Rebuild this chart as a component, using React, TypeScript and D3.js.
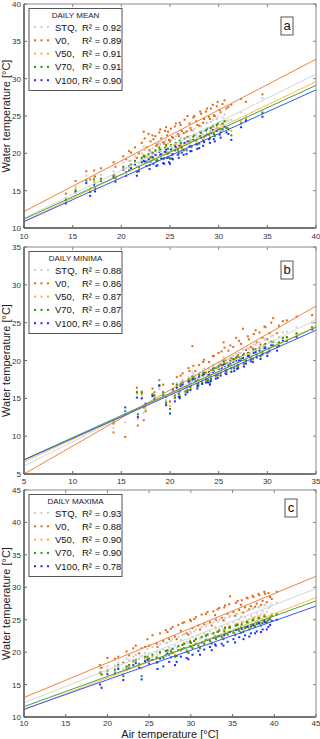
import React from "react";
import * as d3 from "d3";

// series shared by all three panels
const seriesNames = ["STQ", "V0", "V50", "V70", "V100"];
const pointColors = ["#cdcdcd", "#e8650f", "#ffae1f", "#1e9a1e", "#1c2cff"];
const lineColors = ["#d6d6d6", "#f0843c", "#ffbd4a", "#3da63d", "#3c50ff"];

// (a) daily mean
const airMean = [14.3, 15.3, 16.4, 16.8, 17.2, 17.3, 17.9, 19.2, 19.4, 20.2, 20.5, 21.0, 21.4, 21.8, 22.1, 22.3, 22.6, 22.8, 23.0, 23.3, 23.5, 23.7, 23.9, 24.1, 24.3, 24.5, 24.7, 24.9, 25.1, 25.3, 25.5, 25.8, 26.0, 26.2, 26.5, 26.7, 27.0, 27.2, 27.5, 27.7, 28.0, 28.2, 28.5, 28.7, 29.0, 29.2, 29.5, 29.8, 30.1, 30.4, 30.8, 31.3, 32.3, 32.8, 34.5,
  20.8, 21.6, 22.4, 22.9, 23.2, 23.6, 24.0, 24.4, 24.8, 25.2, 25.6, 25.9, 26.1, 26.4, 26.8, 27.1, 27.4, 27.8, 28.1, 28.4, 28.8, 29.1, 29.4, 29.6, 29.9, 30.2, 30.6, 31.0, 24.6, 25.0];
const stqMean = [14.0, 15.5, 17.0, 15.4, 16.8, 16.0, 17.1, 17.6, 17.0, 18.8, 18.0, 19.0, 19.6, 18.7, 20.0, 20.9, 19.6, 20.5, 20.2, 20.0, 21.0, 19.7, 21.4, 20.5, 20.1, 21.6, 20.8, 20.2, 21.8, 20.6, 21.9, 21.1, 22.5, 21.4, 22.8, 21.2, 22.3, 21.7, 23.3, 22.4, 22.2, 23.6, 23.0, 24.0, 23.4, 24.2, 23.5, 24.6, 24.2, 24.8, 24.3, 24.5, 25.5, 25.0, 27.4,
  19.0, 18.3, 20.4, 19.2, 20.7, 19.7, 21.2, 20.2, 21.3, 20.7, 22.3, 20.9, 22.1, 21.3, 23.0, 21.9, 23.0, 22.1, 23.7, 22.6, 24.1, 23.0, 24.5, 23.3, 24.8, 23.8, 25.2, 24.4, 21.8, 20.1];
const v0Mean = [14.6, 16.3, 17.6, 16.5, 17.7, 16.9, 18.0, 18.8, 18.2, 19.6, 19.2, 20.1, 20.8, 20.0, 21.4, 22.9, 20.8, 22.6, 21.6, 21.9, 22.3, 21.2, 22.8, 22.0, 21.5, 23.0, 22.4, 21.8, 23.3, 22.1, 23.6, 22.6, 24.1, 23.0, 24.5, 22.9, 24.0, 23.1, 25.0, 24.3, 23.7, 25.3, 24.6, 25.6, 24.9, 26.0, 25.1, 26.3, 25.8, 26.6, 26.0, 26.5, 27.3, 26.9, 27.9,
  20.3, 19.4, 22.0, 20.4, 22.4, 21.0, 23.2, 21.3, 22.9, 22.2, 24.0, 22.3, 23.8, 22.7, 25.0, 23.4, 24.8, 23.8, 25.6, 24.1, 26.0, 24.6, 26.5, 25.0, 26.9, 25.5, 27.1, 26.2, 23.5, 21.6];
const v50Mean = [13.6, 15.2, 16.2, 14.9, 16.2, 15.2, 16.5, 17.0, 16.6, 18.0, 17.4, 18.4, 18.9, 18.0, 19.2, 19.8, 18.8, 19.6, 19.3, 19.4, 20.3, 19.0, 20.6, 19.8, 19.2, 20.8, 19.9, 19.5, 21.0, 19.8, 21.2, 20.3, 21.6, 20.6, 21.9, 20.5, 21.5, 20.8, 22.4, 21.6, 21.4, 22.7, 22.1, 23.0, 22.6, 23.3, 22.7, 23.6, 23.2, 23.9, 23.4, 23.0, 24.3, 24.6, 25.6,
  18.1, 17.6, 19.4, 18.5, 19.9, 18.9, 20.3, 19.4, 20.6, 19.9, 21.3, 20.2, 21.2, 20.6, 22.1, 21.0, 22.2, 21.3, 22.8, 21.8, 23.2, 22.2, 23.6, 22.5, 23.9, 22.9, 24.3, 23.4, 20.9, 19.3];
const v70Mean = [13.8, 15.0, 16.4, 14.8, 16.5, 15.4, 16.6, 17.1, 16.7, 18.2, 17.5, 18.5, 19.0, 18.2, 19.4, 19.6, 18.9, 19.9, 19.5, 19.2, 20.4, 19.1, 20.8, 19.9, 19.3, 20.7, 20.1, 19.4, 21.1, 19.9, 21.0, 20.5, 21.7, 20.8, 22.0, 20.4, 21.6, 20.9, 22.5, 21.8, 21.3, 22.8, 22.3, 23.1, 22.5, 23.4, 22.6, 23.8, 23.3, 24.0, 23.4, 22.4, 24.0, 24.3, 25.4,
  18.3, 17.5, 19.6, 18.4, 20.1, 19.0, 20.5, 19.3, 20.6, 19.8, 21.4, 20.0, 21.4, 20.4, 22.2, 21.0, 22.3, 21.2, 22.9, 21.7, 23.3, 22.0, 23.7, 22.3, 24.0, 22.8, 24.3, 23.2, 21.1, 19.3];
const v100Mean = [13.3, 14.8, 16.0, 14.3, 15.8, 14.9, 16.3, 16.8, 16.2, 17.8, 17.0, 18.0, 18.5, 17.6, 18.8, 19.0, 18.3, 19.2, 18.9, 18.6, 19.8, 18.4, 20.2, 19.3, 18.7, 20.2, 19.4, 18.8, 20.5, 19.2, 20.4, 19.8, 21.0, 20.1, 21.4, 19.9, 20.9, 20.3, 21.8, 21.2, 20.7, 22.1, 21.5, 22.4, 21.9, 22.7, 21.9, 23.0, 22.5, 23.2, 22.8, 21.8, 23.5, 24.4, 24.9,
  17.7, 17.0, 18.9, 17.9, 19.5, 18.3, 19.8, 18.6, 20.0, 19.3, 20.8, 19.4, 20.9, 19.8, 21.6, 20.3, 21.8, 20.6, 22.3, 21.0, 22.6, 21.4, 23.1, 21.6, 23.3, 22.1, 23.6, 22.6, 20.5, 18.6];
// regression lines: value at left and right end of the x axis
const fitMean = [[11.3, 30.6], [12.2, 32.6], [10.9, 29.6], [11.2, 29.1], [10.85, 28.5]];
const r2Mean = ["0.92", "0.89", "0.91", "0.91", "0.90"];

// (b) daily minima
const airMin = [14.2, 15.4, 16.6, 16.7, 17.1, 17.3, 17.5, 18.2, 18.4, 18.9, 19.6, 20.0, 20.3, 20.7, 21.0, 21.3, 21.6, 21.9, 22.1, 22.3, 22.6, 22.8, 23.0, 23.3, 23.5, 23.7, 24.0, 24.2, 24.5, 24.7, 25.0, 25.2, 25.5, 25.7, 26.0, 26.3, 26.5, 26.8, 27.0, 27.3, 27.5, 27.8, 28.1, 28.3, 28.6, 28.9, 29.2, 29.5, 29.8, 30.2, 30.6, 31.2, 32.0, 33.0, 34.6,
  19.3, 20.5, 21.1, 21.8, 22.4, 22.9, 23.4, 23.9, 24.4, 24.9, 25.3, 25.8, 26.2, 26.6, 27.1, 27.6, 28.0, 28.5, 28.8, 29.3, 29.7, 30.0, 30.4, 31.0, 31.6, 24.1, 25.6, 26.9, 22.0, 20.9];
const stqMin = [11.1, 11.8, 15.6, 12.2, 15.0, 13.1, 13.6, 15.4, 15.0, 16.2, 14.8, 14.5, 16.3, 17.0, 15.5, 17.4, 16.0, 17.8, 16.6, 18.5, 17.9, 16.9, 18.4, 17.4, 18.9, 17.7, 18.9, 17.9, 19.4, 18.3, 19.7, 18.8, 20.4, 19.0, 20.2, 19.4, 20.6, 20.9, 19.8, 21.0, 21.4, 20.4, 21.6, 20.8, 22.1, 21.3, 22.4, 21.8, 22.9, 22.4, 23.3, 23.1, 23.8, 24.4, 25.0,
  15.9, 15.2, 17.2, 16.2, 18.2, 17.1, 18.7, 17.6, 19.3, 18.4, 19.9, 18.9, 20.5, 19.4, 21.0, 20.0, 21.6, 20.6, 22.1, 21.0, 22.7, 21.6, 23.2, 22.3, 23.7, 17.4, 20.2, 19.7, 17.6, 15.8];
const v0Min = [10.5, 9.9, 16.4, 11.4, 15.9, 12.1, 13.3, 16.3, 15.8, 17.4, 15.2, 14.6, 16.9, 17.8, 15.9, 18.3, 16.5, 19.0, 17.2, 21.9, 18.6, 17.4, 19.4, 18.0, 20.1, 18.4, 19.8, 18.7, 20.6, 19.0, 21.0, 19.5, 22.4, 20.0, 21.3, 20.3, 21.8, 23.0, 20.7, 22.2, 24.2, 21.4, 22.8, 21.8, 23.5, 22.4, 23.7, 23.0, 24.4, 23.6, 25.6, 24.6, 25.3, 25.8, 26.0,
  16.8, 15.4, 18.0, 16.6, 19.3, 17.6, 19.8, 18.1, 20.6, 19.1, 21.2, 19.6, 22.0, 20.2, 22.6, 20.9, 23.2, 21.6, 24.0, 22.1, 24.5, 22.8, 25.0, 23.6, 25.2, 18.0, 21.7, 20.5, 18.6, 16.2];
const v50Min = [11.6, 12.9, 15.9, 12.6, 15.4, 13.7, 13.9, 15.6, 15.2, 16.6, 14.6, 14.0, 16.1, 16.6, 15.3, 17.0, 15.8, 17.4, 16.3, 17.8, 17.5, 16.6, 18.0, 17.0, 18.3, 17.3, 18.4, 17.5, 18.9, 17.9, 19.1, 18.2, 19.7, 18.6, 19.5, 18.8, 20.0, 20.2, 19.3, 20.3, 20.6, 19.9, 20.9, 20.2, 21.3, 20.7, 21.6, 21.1, 22.1, 21.6, 22.4, 22.3, 23.0, 23.5, 24.3,
  15.6, 15.0, 16.8, 16.0, 17.7, 16.8, 18.2, 17.3, 18.8, 18.0, 19.3, 18.5, 19.9, 18.9, 20.3, 19.5, 20.9, 20.1, 21.4, 20.5, 21.9, 20.9, 22.4, 21.7, 22.9, 17.0, 19.5, 19.2, 17.2, 15.6];
const v70Min = [11.8, 13.3, 15.8, 12.9, 15.7, 13.9, 14.2, 15.5, 15.4, 16.7, 14.4, 13.6, 16.2, 16.8, 15.2, 17.1, 15.9, 17.5, 16.5, 17.9, 17.6, 16.7, 18.1, 17.1, 18.4, 17.5, 18.5, 17.6, 19.0, 18.0, 19.3, 18.4, 19.9, 18.7, 19.6, 19.0, 20.2, 20.4, 19.4, 20.4, 20.7, 20.0, 21.0, 20.3, 21.4, 20.8, 21.7, 21.2, 22.2, 21.6, 22.5, 22.4, 23.1, 23.6, 24.4,
  15.8, 15.1, 16.9, 16.1, 17.8, 16.9, 18.3, 17.4, 18.9, 18.1, 19.4, 18.6, 20.0, 19.0, 20.4, 19.6, 21.0, 20.2, 21.5, 20.6, 22.0, 21.0, 22.5, 21.8, 23.0, 17.1, 19.6, 19.3, 17.4, 15.6];
const v100Min = [12.0, 13.8, 15.1, 12.5, 15.0, 14.0, 14.3, 15.3, 14.9, 16.7, 14.1, 13.0, 15.9, 16.4, 15.0, 16.8, 15.5, 17.2, 16.1, 17.5, 17.3, 16.3, 17.8, 16.9, 18.1, 17.1, 18.2, 17.3, 18.6, 17.6, 18.9, 18.0, 19.4, 18.3, 19.3, 18.5, 19.8, 20.0, 19.0, 20.0, 20.3, 19.6, 20.6, 19.9, 21.0, 20.4, 21.3, 20.8, 21.7, 21.2, 22.0, 21.9, 22.6, 23.1, 24.1,
  15.4, 14.6, 16.6, 15.8, 17.5, 16.6, 18.0, 17.1, 18.5, 17.7, 19.0, 18.2, 19.6, 18.6, 20.0, 19.2, 20.6, 19.8, 21.1, 20.2, 21.6, 20.6, 22.0, 21.3, 22.6, 16.8, 19.3, 18.9, 17.0, 15.2];
const fitMin = [[6.06, 25.4], [5.0, 27.2], [6.6, 24.5], [6.9, 24.4], [6.85, 24.0]];
const r2Min = ["0.88", "0.86", "0.87", "0.87", "0.86"];

// (c) daily maxima
const airMax = [19.1, 19.3, 20.0, 20.9, 21.3, 21.9, 22.3, 22.6, 23.1, 23.4, 23.8, 24.1, 24.5, 25.0, 25.4, 25.9, 26.3, 26.7, 27.0, 27.4, 27.8, 28.1, 28.5, 28.8, 29.2, 29.5, 29.9, 30.2, 30.6, 30.9, 31.3, 31.6, 32.0, 32.3, 32.7, 33.0, 33.4, 33.7, 34.1, 34.4, 34.7, 35.1, 35.4, 35.8, 36.1, 36.5, 36.8, 37.2, 37.5, 37.9, 38.2, 38.6, 38.9, 39.3, 39.7, 40.3,
  24.8, 26.0, 27.2, 28.3, 29.0, 29.7, 30.4, 31.1, 31.8, 32.5, 33.2, 33.9, 34.6, 35.3, 35.6, 36.3, 36.7, 37.0, 37.4, 37.7, 38.1, 38.4, 38.8, 39.1, 39.5, 30.0, 32.9, 34.0, 36.0, 27.6];
const stqMax = [17.5, 17.0, 17.8, 17.9, 18.3, 17.4, 19.0, 18.8, 19.3, 19.6, 18.9, 19.4, 19.9, 19.8, 20.8, 20.0, 21.2, 20.4, 21.4, 20.7, 22.0, 21.0, 22.4, 21.9, 22.8, 21.6, 23.2, 22.3, 23.5, 22.6, 23.9, 22.9, 24.3, 23.2, 24.6, 23.6, 25.0, 23.9, 25.3, 24.3, 25.6, 24.6, 25.8, 25.0, 26.1, 25.4, 26.4, 25.6, 26.7, 26.0, 27.0, 26.3, 27.2, 26.8, 27.3, 27.6,
  20.5, 19.6, 21.5, 20.7, 22.6, 21.4, 23.2, 22.1, 24.0, 22.8, 24.7, 23.5, 25.4, 24.1, 25.9, 24.7, 26.3, 25.1, 26.7, 25.4, 26.9, 25.8, 27.3, 26.2, 27.0, 22.9, 23.9, 24.8, 25.5, 21.7];
const v0Max = [18.0, 17.6, 19.1, 19.0, 19.3, 18.4, 20.1, 19.5, 20.6, 21.0, 19.8, 20.6, 20.8, 21.0, 22.6, 21.3, 22.9, 21.7, 23.4, 22.0, 23.9, 22.4, 24.2, 23.3, 24.6, 22.9, 25.0, 23.7, 25.4, 24.1, 25.8, 24.3, 26.2, 24.6, 26.3, 25.0, 26.8, 25.3, 27.2, 25.9, 28.6, 26.2, 27.6, 26.5, 28.0, 26.9, 28.3, 27.1, 28.5, 27.5, 28.8, 27.9, 29.0, 29.1, 28.2, 29.3,
  22.0, 20.8, 23.1, 22.0, 24.5, 22.7, 25.1, 23.5, 25.9, 24.1, 26.6, 24.9, 27.4, 25.6, 27.9, 26.1, 28.4, 26.6, 28.7, 27.0, 29.0, 27.3, 29.3, 27.7, 28.5, 24.8, 25.7, 26.9, 27.3, 23.6];
const v50Max = [16.9, 16.5, 17.0, 17.0, 17.7, 16.6, 17.6, 17.9, 18.5, 18.6, 18.0, 17.5, 19.0, 18.8, 19.3, 19.0, 19.8, 19.2, 20.1, 19.7, 20.6, 19.6, 21.0, 20.5, 21.4, 20.4, 21.8, 20.9, 22.1, 21.3, 22.4, 21.6, 22.8, 21.9, 23.0, 22.3, 23.5, 22.6, 23.9, 22.9, 24.0, 23.2, 24.3, 23.6, 24.6, 23.9, 24.9, 24.2, 25.3, 24.6, 25.5, 24.9, 25.7, 25.2, 25.9, 26.0,
  19.1, 18.4, 20.2, 19.5, 21.2, 20.1, 21.8, 20.8, 22.6, 21.5, 23.2, 22.2, 23.9, 22.9, 24.4, 23.4, 24.8, 23.8, 25.2, 24.2, 25.5, 24.5, 25.8, 24.9, 25.4, 21.6, 22.5, 23.4, 24.0, 20.3];
const v70Max = [16.8, 16.6, 17.2, 17.3, 18.0, 16.3, 17.8, 18.0, 18.7, 18.8, 18.2, 16.3, 19.3, 19.0, 19.6, 19.2, 20.0, 19.1, 20.2, 19.6, 20.5, 19.3, 20.9, 20.3, 21.3, 20.1, 21.6, 20.6, 22.0, 21.0, 22.3, 21.3, 22.7, 21.7, 22.9, 22.0, 23.3, 22.3, 23.7, 22.7, 23.8, 23.0, 24.1, 23.3, 24.3, 23.7, 24.6, 23.9, 25.0, 24.3, 25.2, 24.5, 25.4, 24.9, 25.6, 25.8,
  19.3, 18.5, 20.3, 19.4, 21.1, 19.9, 21.7, 20.6, 22.5, 21.3, 23.1, 22.0, 23.8, 22.6, 24.2, 23.1, 24.6, 23.5, 24.9, 23.9, 25.2, 24.1, 25.5, 24.6, 25.1, 21.4, 22.4, 23.2, 23.8, 20.1];
const v100Max = [15.0, 14.5, 16.6, 16.7, 17.4, 15.7, 17.3, 17.5, 18.0, 18.3, 17.6, 15.8, 18.6, 18.2, 18.8, 18.4, 19.0, 17.8, 19.5, 18.5, 19.9, 18.0, 20.3, 19.3, 20.6, 19.1, 20.9, 19.6, 21.3, 20.2, 21.5, 20.4, 21.9, 20.8, 22.2, 21.0, 22.5, 21.3, 22.9, 21.6, 23.1, 22.0, 23.4, 22.3, 23.6, 22.6, 23.9, 22.9, 24.1, 23.2, 24.4, 23.5, 24.6, 23.9, 24.8, 25.0,
  18.8, 17.4, 19.8, 18.5, 20.5, 18.9, 21.1, 19.6, 21.9, 20.3, 22.4, 21.0, 23.1, 21.5, 23.5, 22.0, 23.9, 22.4, 24.2, 22.9, 24.5, 23.1, 24.8, 23.5, 24.2, 20.9, 21.2, 22.6, 23.0, 19.2];
const fitMax = [[12.2, 29.8], [13.0, 31.7], [11.1, 28.4], [11.6, 27.9], [11.2, 27.1]];
const r2Max = ["0.93", "0.88", "0.90", "0.90", "0.78"];

const panelTitles = ["DAILY MEAN", "DAILY MINIMA", "DAILY MAXIMA"];
const panelLetters = ["a", "b", "c"];
const xDomains = [[10, 40], [5, 35], [10, 45]];
const yDomains = [[10, 40], [5, 35], [10, 45]];

const panels = [
  { air: airMean, values: [stqMean, v0Mean, v50Mean, v70Mean, v100Mean], fit: fitMean, r2: r2Mean, top: 4, bottom: 228, labelDy: 11, letterX: 281, letterY: 17 },
  { air: airMin, values: [stqMin, v0Min, v50Min, v70Min, v100Min], fit: fitMin, r2: r2Min, top: 247, bottom: 474, labelDy: 10, letterX: 281, letterY: 261 },
  { air: airMax, values: [stqMax, v0Max, v50Max, v70Max, v100Max], fit: fitMax, r2: r2Max, top: 490, bottom: 717, labelDy: 8.5, letterX: 285, letterY: 499 },
];

const LEFT = 24;
const RIGHT = 316;
const FONT = "'Liberation Sans', Arial, sans-serif";

function Panel({ p, i }: { p: any; i: number }) {
  const x = d3.scaleLinear().domain(xDomains[i]).range([LEFT, RIGHT]);
  const y = d3.scaleLinear().domain(yDomains[i]).range([p.bottom, p.top]);
  const xTicks = d3.range(xDomains[i][0], xDomains[i][1] + 0.1, 5);
  const yTicks = d3.range(yDomains[i][0], yDomains[i][1] + 0.1, 5);
  const line = d3.line<number[]>().x((d) => x(d[0])).y((d) => y(d[1]));
  const tk = 3;
  const lx = 29;
  const ly = p.top + 4.5;

  return (
    <g>
      {/* scatter, STQ first so blue ends on top */}
      {p.values.map((vals: number[], s: number) => (
        <g key={"s" + s} fill={pointColors[s]}>
          {vals.map((v, k) => (
            <rect key={k} x={x(p.air[k]) - 1} y={y(v) - 1} width={2} height={2} />
          ))}
        </g>
      ))}
      {/* fitted lines */}
      {p.fit.map((f: number[], s: number) => (
        <path
          key={"f" + s}
          d={line([[xDomains[i][0], f[0]], [xDomains[i][1], f[1]]]) || ""}
          stroke={lineColors[s]}
          strokeWidth={1}
          fill="none"
        />
      ))}
      {/* frame + ticks */}
      <rect x={LEFT} y={p.top} width={RIGHT - LEFT} height={p.bottom - p.top} fill="none" stroke="#8a8a8a" strokeWidth={1} />
      <line x1={LEFT} x2={LEFT} y1={p.top} y2={p.bottom} stroke="#5a5a5a" strokeWidth={1.4} />
      <line x1={LEFT} x2={RIGHT} y1={p.bottom} y2={p.bottom} stroke="#5a5a5a" strokeWidth={1.4} />
      {xTicks.map((t) => (
        <g key={"xt" + t}>
          <line x1={x(t)} x2={x(t)} y1={p.bottom} y2={p.bottom - tk} stroke="#666" />
          <line x1={x(t)} x2={x(t)} y1={p.top} y2={p.top + tk} stroke="#888" />
          <text x={x(t)} y={p.bottom + p.labelDy} textAnchor="middle" fontSize={8} fill="#333" fontFamily={FONT}>
            {t}
          </text>
        </g>
      ))}
      {yTicks.map((t) => (
        <g key={"yt" + t}>
          <line x1={LEFT} x2={LEFT + tk} y1={y(t)} y2={y(t)} stroke="#666" />
          <line x1={RIGHT} x2={RIGHT - tk} y1={y(t)} y2={y(t)} stroke="#888" />
          <text x={21} y={y(t) + 3} textAnchor="end" fontSize={8} fill="#333" fontFamily={FONT}>
            {t}
          </text>
        </g>
      ))}
      <text
        transform={`translate(10,${(p.top + p.bottom) / 2}) rotate(-90)`}
        textAnchor="middle"
        fontSize={11}
        fill="#222"
        fontFamily={FONT}
      >
        Water temperature [°C]
      </text>
      {/* legend */}
      <rect x={lx} y={ly} width={93} height={82} fill="#fff" stroke="#555" strokeWidth={1} />
      <text x={lx + 46.5} y={ly + 9.5} textAnchor="middle" fontSize={8} fill="#222" fontFamily={FONT}>
        {panelTitles[i]}
      </text>
      {seriesNames.map((n, s) => {
        const cy = ly + 18.5 + s * 13.3;
        return (
          <g key={"l" + s}>
            {[35, 41.5, 48].map((mx) => (
              <rect key={mx} x={mx - 1} y={cy - 1} width={2} height={2} fill={pointColors[s]} />
            ))}
            <text x={55} y={cy + 3.5} fontSize={9.5} fill="#111" fontFamily={FONT}>
              {n},
            </text>
            <text x={82} y={cy + 3.5} fontSize={9.5} fill="#111" fontFamily={FONT}>
              R² = {p.r2[s]}
            </text>
          </g>
        );
      })}
      {/* panel letter */}
      <rect x={p.letterX} y={p.letterY} width={12} height={18} fill="#fff" stroke="#555" strokeWidth={1} />
      <text x={p.letterX + 6} y={p.letterY + 13} textAnchor="middle" fontSize={13} fill="#111" fontFamily={FONT}>
        {panelLetters[i]}
      </text>
    </g>
  );
}

export default function App() {
  return (
    <svg width={320} height={739} style={{ position: "absolute", left: 0, top: 0, background: "#fff" }}>
      {panels.map((p, i) => (
        <Panel key={i} p={p} i={i} />
      ))}
      <text x={(LEFT + RIGHT) / 2} y={738} textAnchor="middle" fontSize={11} fill="#222" fontFamily={FONT}>
        Air temperature [°C]
      </text>
    </svg>
  );
}
